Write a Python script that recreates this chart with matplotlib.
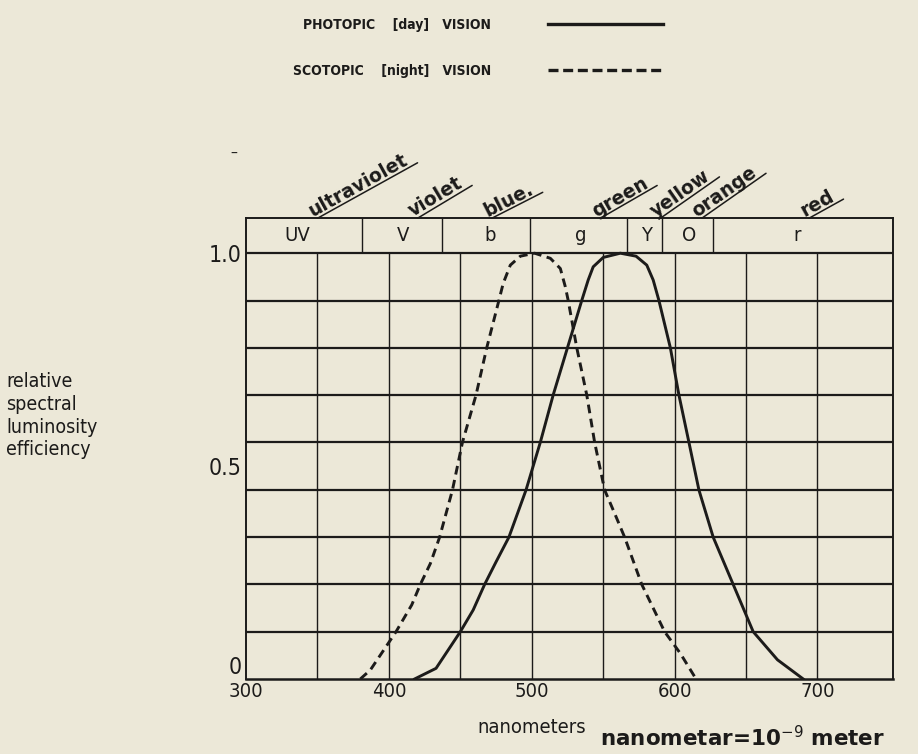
import matplotlib
matplotlib.use('Agg')
import matplotlib.pyplot as plt
from matplotlib import font_manager
from matplotlib.font_manager import FontProperties
from matplotlib.lines import Line2D
from matplotlib.textpath import TextToPath
import numpy as np

# values
photopic_nm = [418, 433, 450, 459, 467, 475, 484, 496, 506, 515, 525, 535, 539.5, 543,
               550, 562, 573, 580.5, 585, 589, 597, 603, 610, 617, 627, 641, 655, 672, 690]
photopic_eff = [0.0, 0.025, 0.111, 0.162, 0.222, 0.275, 0.333, 0.444, 0.556, 0.667,
                0.778, 0.889, 0.937, 0.968, 0.990, 1.0, 0.993, 0.972, 0.937, 0.889,
                0.778, 0.667, 0.556, 0.444, 0.333, 0.222, 0.111, 0.045, 0.0]

scotopic_nm = [380, 387, 405, 416, 422, 429, 435.5, 444.5, 451.5, 461, 468.5, 477,
               480, 485, 492, 502, 513, 520, 523.5, 525.5, 531.5, 538.5, 544, 551,
               559, 565, 577, 593, 604, 615]
scotopic_eff = [0.0, 0.021, 0.111, 0.174, 0.222, 0.271, 0.333, 0.444, 0.556, 0.667,
                0.778, 0.889, 0.929, 0.972, 0.993, 1.0, 0.988, 0.964, 0.921, 0.889,
                0.778, 0.667, 0.556, 0.444, 0.381, 0.333, 0.222, 0.111, 0.06, 0.0]

x_ticks = [300, 400, 500, 600, 700]
x_tick_labels = ['300', '400', '500', '600', '700']
y_ticks = [0, 0.5, 1.0]
y_tick_labels = ['0', '0.5', '1.0']

# colour band row above the grid
band_edges = [381, 437, 499, 567, 591, 627]
band_letters = ['UV', 'V', 'b', 'g', 'Y', 'O', 'r']
band_letter_nm = [336, 410, 471, 534, 580, 610, 686]

color_names = ['ultraviolet', 'violet', 'blue.', 'green', 'yellow', 'orange', 'red']
color_name_nm = [350, 420, 472, 548, 590, 619, 694]
color_name_angle = [29, 31, 27, 30, 35, 35, 29]

legend_labels = ['PHOTOPIC    [day]   VISION', 'SCOTOPIC    [night]   VISION']

x_min, x_max = 300, 753
header_top = 1.082

paper = '#ece8d8'
ink = '#1c1b1a'


def narrow_font(size, bold=False):
    # look for any condensed / narrow face that is installed
    squeeze = ('ultra-condensed', 'extra-condensed', 'condensed', 'semi-condensed')
    found = []
    for f in font_manager.fontManager.ttflist:
        tag = (f.name + ' ' + str(f.stretch)).lower()
        if f.stretch in squeeze or 'narrow' in tag or 'condensed' in tag:
            isbold = f.weight in ('bold', 700, 'heavy', 800, 'semibold', 600)
            if isbold == bold and f.style == 'normal':
                found.append(f)
    if found:
        found.sort(key=lambda f: squeeze.index(f.stretch) if f.stretch in squeeze else 2)
        return FontProperties(fname=found[0].fname, size=size)
    return FontProperties(family='DejaVu Sans', weight='bold' if bold else 'normal',
                          size=size * 0.85)


fig = plt.figure(figsize=(9.18, 7.54), dpi=100, facecolor=paper)
ax = fig.add_axes([0.268, 0.0995, 0.705, 0.611])
ax.set_facecolor(paper)
ax.set_xlim(x_min, x_max)
ax.set_ylim(0, header_top)

# grid
grid_x = list(range(350, 701, 50))
grid_y = [k / 9 for k in range(1, 10)]
ax.vlines(grid_x, 0, 1.0, color=ink, lw=1.0, zorder=1)
ax.hlines(grid_y, x_min, x_max, color=ink, lw=1.6, zorder=1)
ax.vlines(band_edges, 1.0, header_top, color=ink, lw=1.0, zorder=1)

for s in ax.spines.values():
    s.set_color(ink)
    s.set_linewidth(1.4)
ax.spines['bottom'].set_linewidth(1.8)

# curves
ax.plot(photopic_nm, photopic_eff, color=ink, lw=2.1,
        solid_joinstyle='round', zorder=3)
ax.plot(scotopic_nm, scotopic_eff, color=ink, lw=2.1,
        dashes=(3.0, 1.9), zorder=3)

# ticks
ax.set_xticks(x_ticks, x_tick_labels, fontproperties=narrow_font(14.5), color=ink)
ax.set_yticks(y_ticks, y_tick_labels, fontproperties=narrow_font(16.5), color=ink)
ax.tick_params(length=0, pad=2)
ax.tick_params(axis='y', pad=3)
ax.get_yticklabels()[0].set_verticalalignment('bottom')

# header letters
for nm, letter in zip(band_letter_nm, band_letters):
    ax.text(nm, (1.0 + header_top) / 2, letter, fontproperties=narrow_font(14.5),
            ha='center', va='center', color=ink)

# slanted colour names with underlines
ttp = TextToPath()
prop = FontProperties(family='DejaVu Sans', weight='bold', size=13.5)
for nm, name, ang in zip(color_name_nm, color_names, color_name_angle):
    w, h, d = ttp.get_text_width_height_descent(name, prop, ismath=False)
    L = w + 3
    th = np.radians(ang)
    ax.annotate('', xy=(nm, header_top), xytext=(L * np.cos(th), L * np.sin(th)),
                textcoords='offset points', annotation_clip=False,
                arrowprops=dict(arrowstyle='-', color=ink, lw=1.1,
                                shrinkA=0, shrinkB=0))
    off_along, off_perp = -2.5, 2.4
    ox = off_along * np.cos(th) - off_perp * np.sin(th)
    oy = off_along * np.sin(th) + off_perp * np.cos(th)
    ax.annotate(name, xy=(nm, header_top), xytext=(ox, oy), textcoords='offset points',
                rotation=ang, rotation_mode='anchor', ha='left', va='baseline',
                fontproperties=prop, color=ink, annotation_clip=False)

# axis titles
ax.annotate('nanometers', xy=(500, 0), xycoords=('data', 'axes fraction'),
            xytext=(0, -28), textcoords='offset points', ha='center', va='top',
            fontproperties=narrow_font(14.5), color=ink)
fig.text(0.654, 0.011, r'nanometar=10$^{-9}$ meter', family='DejaVu Sans',
         weight='bold', fontsize=15.5, color=ink, ha='left', va='baseline')
fig.text(0.007, 0.507, 'relative\nspectral\nluminosity\nefficiency',
         fontproperties=narrow_font(14), color=ink, ha='left', va='top',
         linespacing=1.26)

# key at the top
key_solid = Line2D([], [], color=ink, lw=2.4)
key_dashed = Line2D([], [], color=ink, lw=2.4, dashes=(3.0, 1.4))
leg = ax.legend([key_solid, key_dashed], legend_labels, markerfirst=False,
                frameon=False, loc='upper left', bbox_to_anchor=(0.319, 0.976),
                bbox_transform=fig.transFigure, borderpad=0, borderaxespad=0,
                handlelength=8.3, handletextpad=4.1, labelspacing=2.3,
                prop=narrow_font(10, bold=True))
for t in leg.get_texts():
    t.set_color(ink)

# stray pen mark on the scan
fig.text(0.251, 0.79, '\u2013', fontsize=10, color=ink)

fig.savefig('out.png', dpi=100, facecolor=paper)
